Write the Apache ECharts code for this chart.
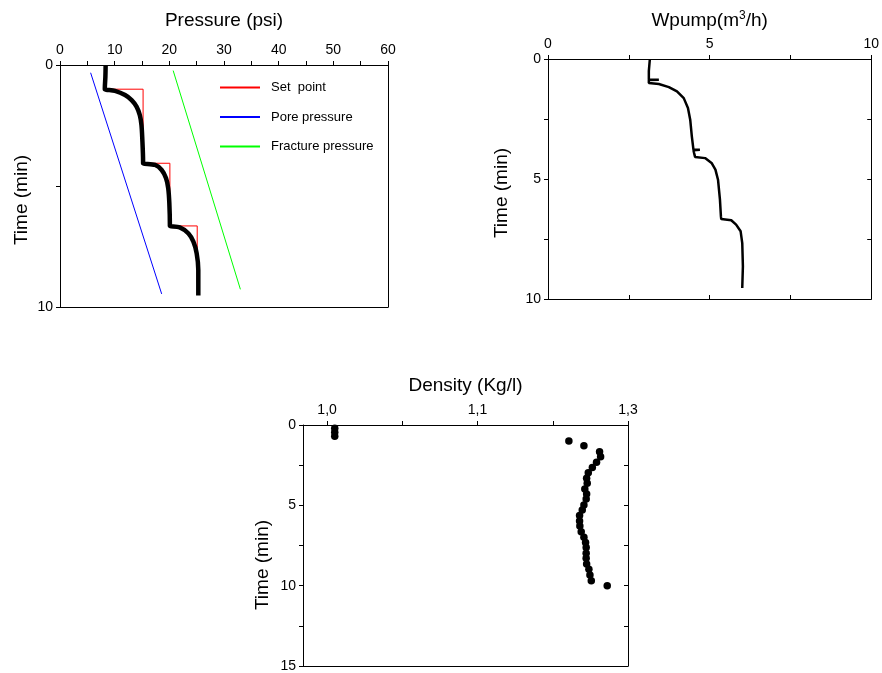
<!DOCTYPE html>
<html>
<head>
<meta charset="utf-8">
<script src="https://cdn.jsdelivr.net/npm/echarts@6/dist/echarts.min.js"></script>
<style>
html,body{margin:0;padding:0;background:#fff;}
#c{width:882px;height:673px;}
</style>
</head>
<body>
<div id="c"></div>
<script>
// ---------- Data ----------
// Chart 1: Pressure (psi) vs Time (min)  -> [pressure, time]
const measuredPressure = [[8.35,0],[8.3,0.5],[8.2,0.96],[8.2,1.0],[10.06,1.07],[11.9,1.24],[13.1,1.45],[14.0,1.72],[14.6,2.07],[14.9,2.48],[15.05,3.03],[15.2,4.0],[15.2,4.06],[17.4,4.13],[18.6,4.34],[19.4,4.68],[19.8,5.1],[20.0,5.71],[20.1,6.61],[20.1,6.65],[21.9,6.71],[23.5,6.96],[24.4,7.3],[25.0,7.78],[25.3,8.47],[25.3,9.52]];
const setPoint = [[8.3,0],[8.3,1.0],[15.2,1.0],[15.2,4.06],[20.1,4.06],[20.1,6.65],[25.1,6.65],[25.1,9.0]];
const porePressure = [[5.6,0.32],[18.6,9.46]];
const fracturePressure = [[20.7,0.23],[33.0,9.27]];
const pressureLegend = ['Set  point','Pore pressure','Fracture pressure'];
const pressureTickLabels = ['0','10','20','30','40','50','60'];
const timeTickLabels1 = ['0','10'];

// Chart 2: Wpump (m3/h) vs Time (min) -> [flow, time]
const pumpFlow = [[3.15,0.03],[3.12,0.5],[3.12,0.86],[3.43,0.86],[3.12,0.87],[3.13,0.93],[3.12,1.0],[3.43,1.04],[3.74,1.17],[3.99,1.35],[4.2,1.63],[4.33,2.04],[4.4,2.53],[4.45,3.22],[4.5,3.78],[4.7,3.78],[4.5,3.8],[4.52,3.92],[4.55,4.08],[4.86,4.13],[5.06,4.33],[5.18,4.61],[5.26,5.03],[5.32,5.86],[5.35,6.56],[5.36,6.67],[5.67,6.72],[5.82,6.9],[5.96,7.18],[6.01,7.67],[6.03,8.64],[6.01,9.54]];
const pumpTickLabels = ['0','5','10'];
const timeTickLabels2 = ['0','5','10'];

// Chart 3: Density (Kg/l) vs Time (min)
const densityTime = [0.2,0.45,0.7,1.0,1.29,1.66,1.97,2.32,2.65,2.97,3.32,3.63,3.98,4.29,4.6,4.98,5.29,5.64,5.97,6.28,6.64,6.99,7.32,7.63,7.98,8.29,8.65,8.98,9.33,9.69,10.0];
const densityValue = [1.0051,1.0051,1.0051,1.1607,1.1707,1.1811,1.1818,1.1791,1.1763,1.1736,1.1725,1.1729,1.1713,1.1725,1.1722,1.1707,1.1696,1.1678,1.1678,1.168,1.1689,1.1707,1.1718,1.1722,1.1722,1.1722,1.1725,1.174,1.1747,1.1756,1.1862];
const densityTickValues = [1.0,1.1,1.2];
const densityTickLabels = ['1,0','1,1','1,3'];
const densityMinorTicks = [1.0,1.05,1.1,1.15,1.2];
const timeTickLabels3 = ['0','5','10','15'];

// ---------- Chart ----------
const FONT = 'Liberation Sans, Arial, sans-serif';
const LEGEND_COLORS = ['#ff0000','#0000ff','#00ff00'];
const chart = echarts.init(document.getElementById('c'), null, {renderer:'canvas'});

const axLine = {show:true, onZero:false, lineStyle:{color:'#000', width:1}};
const lbl = (list) => ({show:true, fontFamily:FONT, fontSize:14, color:'#000',
  formatter: v => list.includes(String(+v.toFixed(3))) ? String(+v.toFixed(3)) : ''});

function mirrorX(grid, min, max, ticks, interval){
  return {gridIndex:grid, type:'value', position:'bottom', min, max, interval,
    axisLine:axLine, axisLabel:{show:false}, splitLine:{show:false},
    axisTick:{show:ticks, inside:true, length:4, lineStyle:{color:'#000'}}};
}
function mirrorY(grid, min, max, ticks, interval){
  return {gridIndex:grid, type:'value', position:'right', inverse:true, min, max, interval,
    axisLine:axLine, axisLabel:{show:false}, splitLine:{show:false},
    axisTick:{show:ticks, inside:true, length:4, lineStyle:{color:'#000'}}};
}
const tickOut = {show:true, inside:false, length:4, lineStyle:{color:'#000'}};

const option = {
  animation:false,
  backgroundColor:'#fff',
  textStyle:{fontFamily:FONT},
  grid:[
    {left:60, top:65, width:328, height:242},
    {left:548, top:59, width:327, height:240},
    {left:303, top:425, width:325, height:241}
  ],
  legend:{
    data:pressureLegend, orient:'vertical', left:214, top:76,
    itemWidth:40, itemHeight:14, itemGap:16.5,
    itemStyle:{opacity:0},
    textStyle:{fontFamily:FONT, fontSize:13, color:'#000', padding:[0,0,0,6]},
    selectedMode:false
  },
  xAxis:[
    {gridIndex:0, type:'value', position:'top', min:0, max:60, interval:5,
     name:'Pressure (psi)', nameLocation:'middle', nameGap:35,
     nameTextStyle:{fontFamily:FONT, fontSize:19, color:'#000'},
     axisLine:axLine, axisTick:tickOut, splitLine:{show:false},
     axisLabel:Object.assign(lbl(pressureTickLabels), {margin:8})},
    mirrorX(0,0,60,false,5),
    {gridIndex:1, type:'value', position:'top', min:0, max:10, interval:2.5,
     name:'Wpump(m{sup|3}/h)', nameLocation:'middle', nameGap:27,
     nameTextStyle:{fontFamily:FONT, fontSize:19, color:'#000',
       rich:{sup:{fontFamily:FONT, fontSize:12, color:'#000', verticalAlign:'top', padding:[0,0,10,0]}}},
     axisLine:axLine, axisTick:tickOut, splitLine:{show:false},
     axisLabel:Object.assign(lbl(pumpTickLabels), {margin:8})},
    mirrorX(1,0,10,true,2.5),
    {gridIndex:2, type:'value', position:'top', min:0.984, max:1.2,
     name:'Density (Kg/l)', nameLocation:'middle', nameGap:30,
     nameTextStyle:{fontFamily:FONT, fontSize:19, color:'#000'},
     axisLine:axLine, splitLine:{show:false},
     axisTick:Object.assign({}, tickOut, {customValues:densityMinorTicks}),
     axisLabel:{show:true, fontFamily:FONT, fontSize:14, color:'#000', margin:8,
       customValues:densityTickValues,
       formatter: v => {const i = densityTickValues.findIndex(t => Math.abs(t - v) < 1e-6); return i >= 0 ? densityTickLabels[i] : '';}}},
    mirrorX(2,0.984,1.2,false,null)
  ],
  yAxis:[
    {gridIndex:0, type:'value', inverse:true, min:0, max:10, interval:5,
     axisLine:axLine, axisTick:tickOut, splitLine:{show:false},
     axisLabel:Object.assign(lbl(timeTickLabels1), {margin:7})},
    mirrorY(0,0,10,false,5),
    {gridIndex:1, type:'value', inverse:true, min:0, max:10, interval:2.5,
     axisLine:axLine, axisTick:tickOut, splitLine:{show:false},
     axisLabel:Object.assign(lbl(timeTickLabels2), {margin:7})},
    mirrorY(1,0,10,true,2.5),
    {gridIndex:2, type:'value', inverse:true, min:0, max:15, interval:2.5,
     axisLine:axLine, axisTick:tickOut, splitLine:{show:false},
     axisLabel:Object.assign(lbl(timeTickLabels3), {margin:7})},
    mirrorY(2,0,15,true,2.5)
  ],
  graphic:[
    {type:'text', x:22, y:200, rotation:Math.PI/2, style:{text:'Time (min)', font:'19px '+FONT, fill:'#000', align:'center', verticalAlign:'middle'}},
    {type:'text', x:502, y:193, rotation:Math.PI/2, style:{text:'Time (min)', font:'19px '+FONT, fill:'#000', align:'center', verticalAlign:'middle'}},
    {type:'text', x:263, y:565, rotation:Math.PI/2, style:{text:'Time (min)', font:'19px '+FONT, fill:'#000', align:'center', verticalAlign:'middle'}}
  ],
  series:[
    {name:pressureLegend[0], type:'line', xAxisIndex:0, yAxisIndex:0, data:setPoint, symbol:'none',
     lineStyle:{color:LEGEND_COLORS[0], width:1}, itemStyle:{color:LEGEND_COLORS[0]}, z:2},
    {name:pressureLegend[1], type:'line', xAxisIndex:0, yAxisIndex:0, data:porePressure, symbol:'none',
     lineStyle:{color:LEGEND_COLORS[1], width:1}, itemStyle:{color:LEGEND_COLORS[1]}},
    {name:pressureLegend[2], type:'line', xAxisIndex:0, yAxisIndex:0, data:fracturePressure, symbol:'none',
     lineStyle:{color:LEGEND_COLORS[2], width:1}, itemStyle:{color:LEGEND_COLORS[2]}},
    {name:'Measured pressure', type:'line', xAxisIndex:0, yAxisIndex:0, data:measuredPressure, symbol:'none',
     smooth:0.3, lineStyle:{color:'#000', width:4.5}, z:3},
    {name:'Wpump', type:'line', xAxisIndex:2, yAxisIndex:2, data:pumpFlow, symbol:'none',
     lineStyle:{color:'#000', width:2.5}},
    {name:'Density', type:'scatter', xAxisIndex:4, yAxisIndex:4,
     data:densityValue.map((d,i) => [d, densityTime[i]]),
     symbol:'circle', symbolSize:7.5, itemStyle:{color:'#000', opacity:1}}
  ]
};
chart.setOption(option);
</script>
</body>
</html>
